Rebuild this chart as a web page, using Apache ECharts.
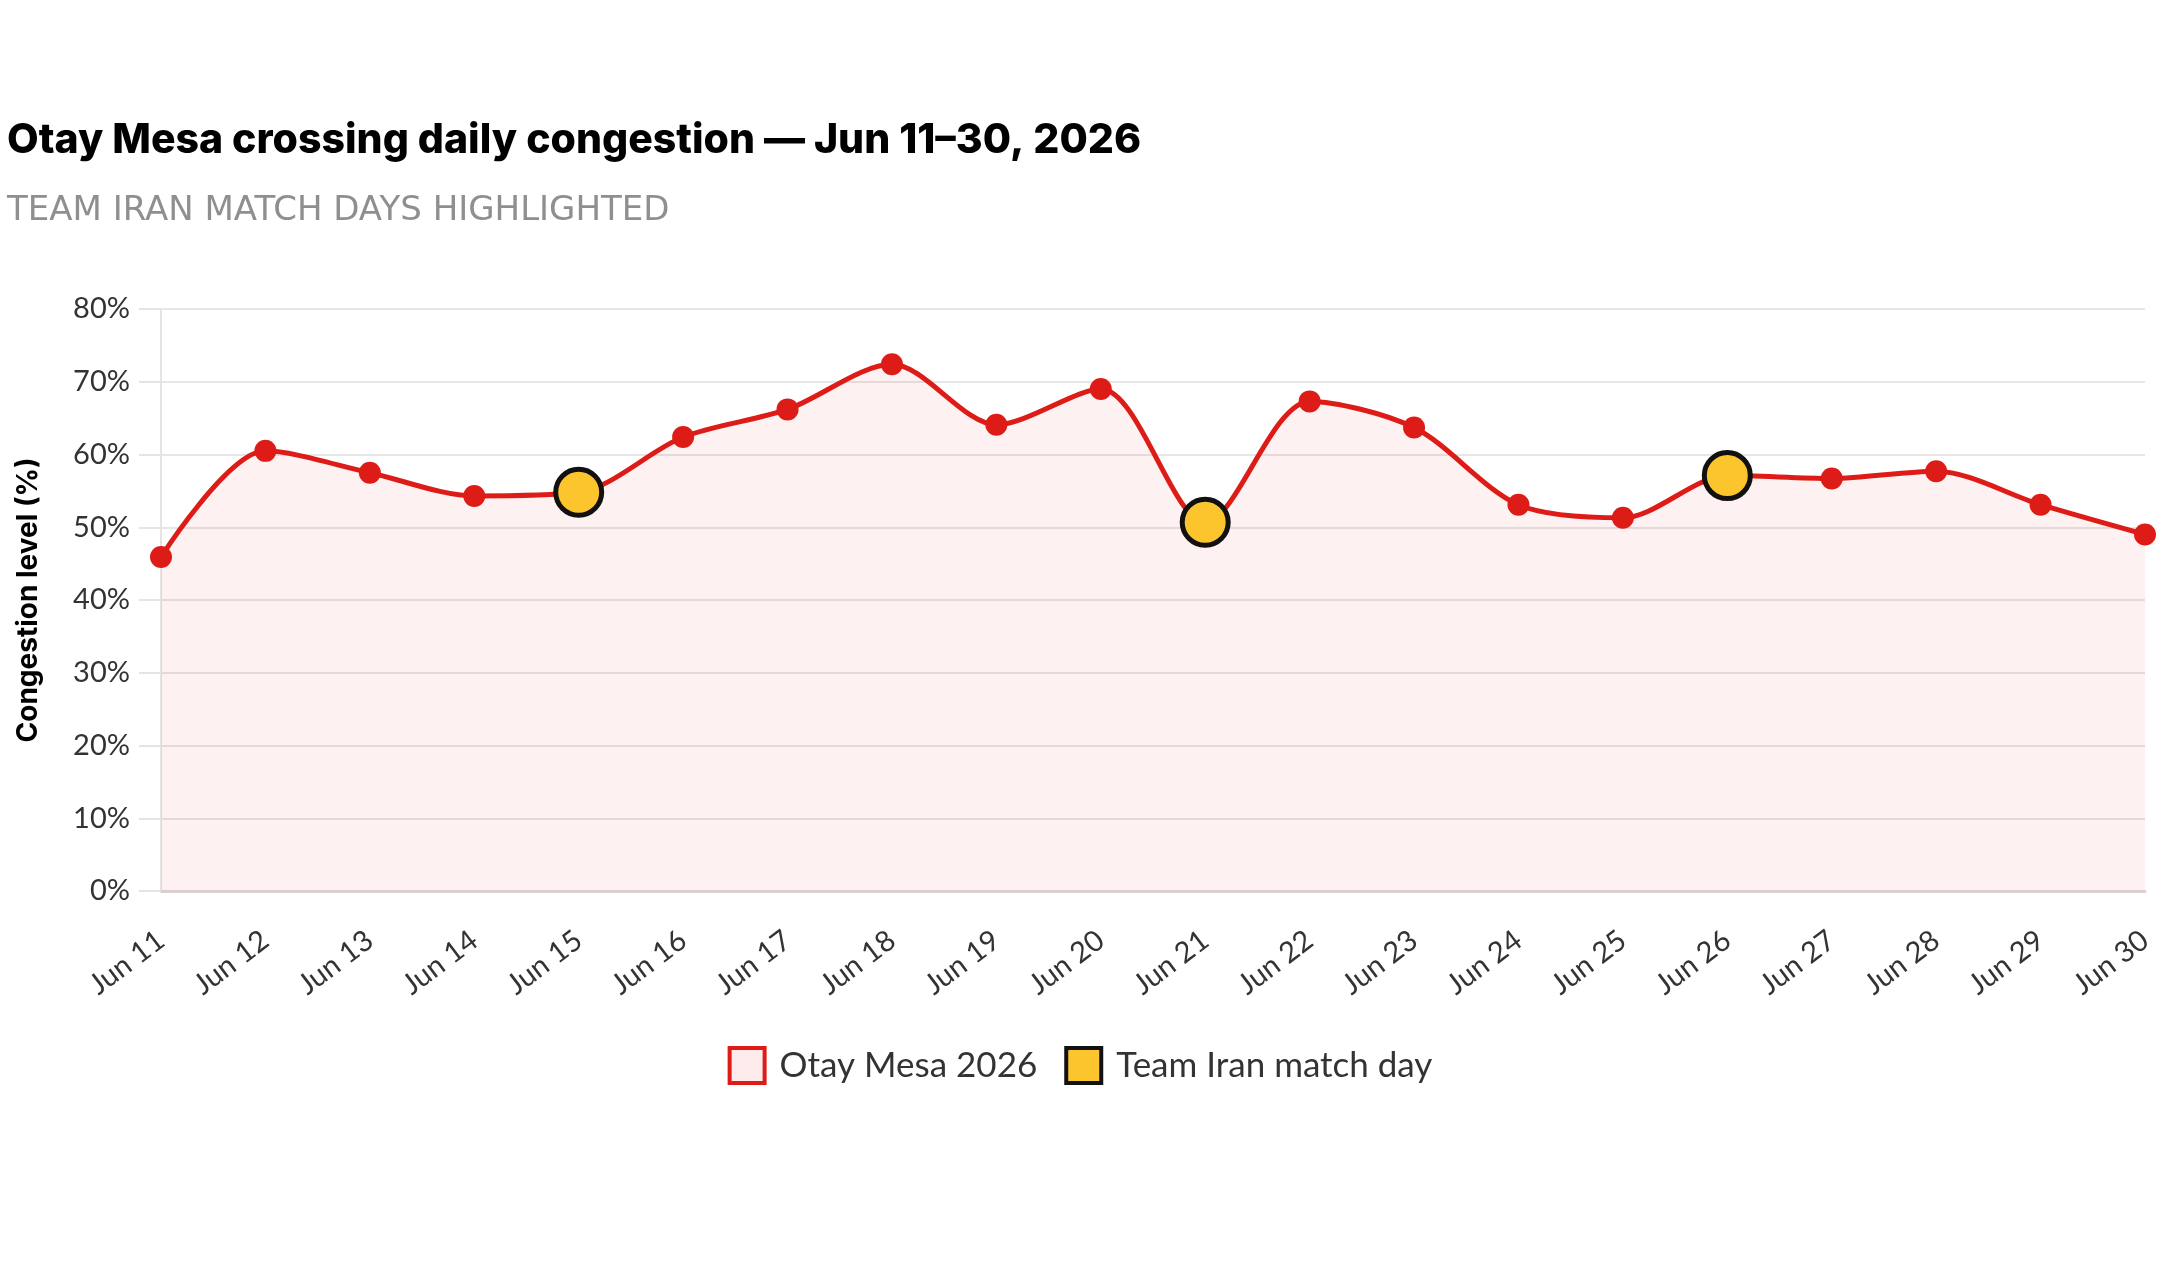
<!DOCTYPE html>
<html>
<head>
<meta charset="utf-8">
<script src="https://cdn.jsdelivr.net/npm/echarts@6/dist/echarts.min.js"></script>
<style>
  html, body { margin: 0; padding: 0; background: #fff; }
  #chart { width: 2160px; height: 1275px; }
</style>
</head>
<body>
<div id="chart"></div>
<script>
// days on the x axis
var days = ['Jun 11', 'Jun 12', 'Jun 13', 'Jun 14', 'Jun 15', 'Jun 16', 'Jun 17', 'Jun 18', 'Jun 19', 'Jun 20',
    'Jun 21', 'Jun 22', 'Jun 23', 'Jun 24', 'Jun 25', 'Jun 26', 'Jun 27', 'Jun 28', 'Jun 29', 'Jun 30'];
// daily congestion level, %
var congestion = [45.9, 60.5, 57.5, 54.3, 54.8, 62.4, 66.2, 72.4, 64.1, 69.0,
    50.7, 67.3, 63.7, 53.1, 51.3, 57.1, 56.7, 57.7, 53.1, 49.0];
// team iran match days
var matchDays = ['Jun 15', 'Jun 21', 'Jun 26'];
var yTicks = [0, 10, 20, 30, 40, 50, 60, 70, 80];

var lineRed = '#dd1c17';
var labelFont = 'Lato';

var myChart = echarts.init(document.getElementById('chart'));

function getMatchData() {
    //only keep points on match days
    var arr = [];
    for (var i = 0; i < days.length; i++) {
        if (matchDays.indexOf(days[i]) > -1) {
            arr.push(congestion[i]);
        } else {
            arr.push('-');
        }
    }
    return arr;
}

var option = {
    backgroundColor: '#fff',
    animation: false,
    title: [{
        text: 'Otay Mesa crossing daily congestion \u2014 Jun 11\u201330, 2026',
        left: 2,
        top: 115,
        textStyle: {
            fontFamily: 'Inter',
            fontWeight: 800,
            fontSize: 41,
            color: '#000'
        }
    }, {
        text: 'TEAM IRAN MATCH DAYS HIGHLIGHTED',
        left: 2,
        top: 189,
        textStyle: {
            fontFamily: 'DejaVu Sans',
            fontWeight: 'normal',
            fontSize: 34,
            color: '#8f8f8f'
        }
    }],
    legend: {
        bottom: 185,
        left: 'center',
        itemWidth: 35,
        itemHeight: 35,
        itemGap: 27,
        textStyle: {
            fontFamily: labelFont,
            fontSize: 35,
            color: '#333',
            padding: [0, 0, 0, 10]
        },
        data: [{
            name: 'Otay Mesa 2026',
            icon: 'rect',
            itemStyle: {color: '#fdeaea', borderColor: lineRed, borderWidth: 4}
        }, {
            name: 'Team Iran match day',
            icon: 'rect',
            itemStyle: {color: '#fcc42d', borderColor: '#111', borderWidth: 4}
        }]
    },
    grid: {
        left: 161,
        right: 15,
        top: 309,
        bottom: 384
    },
    xAxis: {
        type: 'category',
        data: days,
        boundaryGap: false,
        axisLine: {lineStyle: {color: '#d9d4d4', width: 3}},
        axisTick: {show: false},
        axisLabel: {
            rotate: 37,
            margin: 46,
            interval: 0,
            fontFamily: labelFont,
            fontSize: 29,
            color: '#333'
        }
    },
    yAxis: {
        type: 'value',
        min: yTicks[0],
        max: yTicks[yTicks.length - 1],
        interval: 10,
        name: 'Congestion level (%)',
        nameLocation: 'middle',
        nameGap: 118,
        nameTextStyle: {
            fontFamily: 'Inter',
            fontWeight: 'bold',
            fontSize: 28,
            color: '#000'
        },
        axisLine: {show: true, lineStyle: {color: '#e6e3e3', width: 2}},
        axisTick: {show: true, length: 22, lineStyle: {color: '#e6e3e3', width: 2}},
        axisLabel: {
            margin: 31,
            fontFamily: labelFont,
            fontSize: 29,
            color: '#333',
            formatter: '{value}%'
        },
        splitLine: {lineStyle: {color: '#e8e6e6', width: 2}}
    },
    series: [{
        name: 'Otay Mesa 2026',
        type: 'line',
        smooth: 0.3,
        data: congestion,
        symbol: 'circle',
        symbolSize: 22,
        lineStyle: {color: lineRed, width: 5},
        itemStyle: {color: lineRed},
        areaStyle: {color: 'rgba(230, 60, 60, 0.1)'},
        z: 2
    }, {
        name: 'Team Iran match day',
        type: 'scatter',
        data: getMatchData(),
        symbol: 'circle',
        symbolSize: 46,
        itemStyle: {color: '#fcc42d', borderColor: '#111', borderWidth: 5, opacity: 1},
        z: 5
    }]
};
myChart.setOption(option);
</script>
</body>
</html>
